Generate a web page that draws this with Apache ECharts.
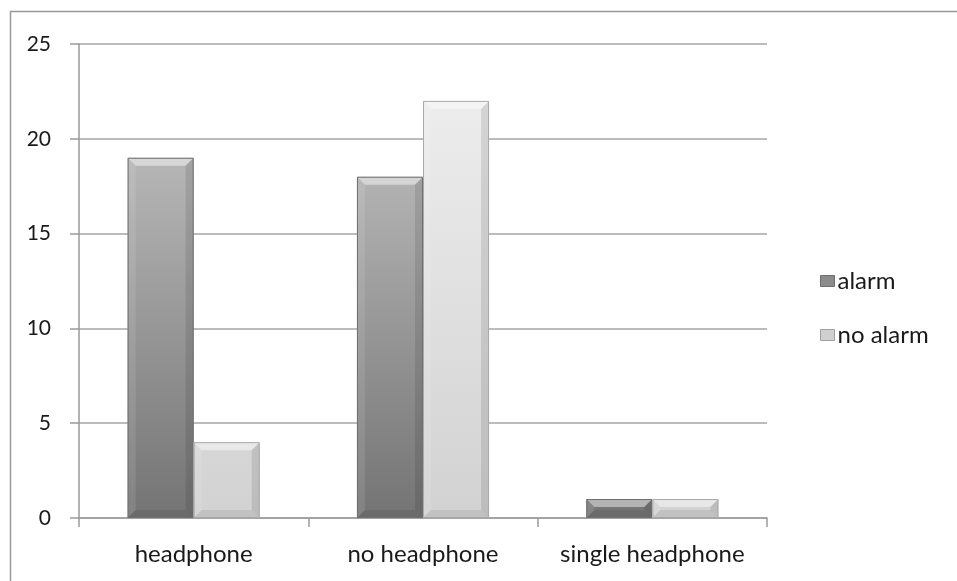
<!DOCTYPE html>
<html>
<head>
<meta charset="utf-8">
<script src="https://cdn.jsdelivr.net/npm/echarts@6/dist/echarts.min.js"></script>
<style>
  html, body { margin: 0; padding: 0; background: #ffffff; }
  #chart { width: 957px; height: 581px; }
</style>
</head>
<body>
<div id="chart"></div>
<script>
// Categories and counts per group
const categories = ['headphone', 'no headphone', 'single headphone'];
const alarmValues = [19, 18, 1];
const noAlarmValues = [4, 22, 1];
const seriesNames = ['alarm', 'no alarm'];
const yTicks = { min: 0, max: 25, interval: 5 };

const FONT = 'Lato, "Open Sans", sans-serif';
const GRID = { left: 79, right: 190, top: 44, bottom: 63 };
const plotTop = GRID.top;
const plotBottom = 581 - GRID.bottom;
const BAR_SHARE = 0.288;   // width of one bar as a share of the category band

// Vertical shading shared across the whole plot height
function shade(top, bottom) {
  return new echarts.graphic.LinearGradient(0, plotTop, 0, plotBottom, [
    { offset: 0, color: top },
    { offset: 1, color: bottom }
  ], true);
}

const looks = [
  { face: shade('#cbcbcb', '#747474'), edge: '#6f6f6f', legend: '#8c8c8c', side: -1 },
  { face: shade('#f0f0f0', '#d2d2d2'), edge: '#a9a9a9', legend: '#d0d0d0', side: 0 }
];

// Bevelled bar: flat face plus lit top/left and shaded right/bottom rims
function bevelBar(look) {
  return function (params, api) {
    const cat = api.value(0);
    const val = api.value(1);
    const base = api.coord([cat, 0]);
    const top = api.coord([cat, val]);
    const band = api.size([1, 0])[0];
    const w = band * BAR_SHARE;
    const x0 = base[0] + look.side * w;
    const x1 = x0 + w;
    const y0 = top[1];
    const y1 = base[1];
    const h = y1 - y0;
    const b = Math.max(1, Math.min(8, h / 2.2, w / 2.2));
    const ix0 = x0 + b, ix1 = x1 - b, iy0 = y0 + b, iy1 = y1 - b;
    const poly = (pts, fill) => ({ type: 'polygon', shape: { points: pts }, style: { fill: fill }, silent: true });
    return {
      type: 'group',
      children: [
        { type: 'rect', shape: { x: x0, y: y0, width: w, height: h }, style: { fill: look.face } },
        poly([[x0, y0], [x1, y0], [ix1, iy0], [ix0, iy0]], 'rgba(255,255,255,0.45)'),
        poly([[x0, y0], [ix0, iy0], [ix0, iy1], [x0, y1]], 'rgba(255,255,255,0.10)'),
        poly([[x1, y0], [ix1, iy0], [ix1, iy1], [x1, y1]], 'rgba(0,0,0,0.10)'),
        poly([[x0, y1], [ix0, iy1], [ix1, iy1], [x1, y1]], 'rgba(0,0,0,0.08)'),
        { type: 'rect', shape: { x: x0 + 0.5, y: y0 + 0.5, width: w - 1, height: h - 1 },
          style: { fill: 'none', stroke: look.edge, lineWidth: 1 }, silent: true }
      ]
    };
  };
}

const chart = echarts.init(document.getElementById('chart'), null, { renderer: 'canvas' });

chart.setOption({
  animation: false,
  backgroundColor: '#ffffff',
  graphic: [{
    type: 'rect',
    left: 8, top: 9,
    shape: { width: 1000, height: 620 },
    style: { fill: 'none', stroke: '#9a9a9a', lineWidth: 1.5 },
    silent: true,
    z: -1
  }],
  grid: GRID,
  legend: {
    orient: 'vertical',
    left: 815,
    top: 264,
    itemWidth: 14,
    itemHeight: 11,
    itemGap: 30,
    icon: 'rect',
    textStyle: { fontFamily: FONT, fontSize: 24, color: '#1a1a1a', padding: [0, 0, 0, -2] },
    data: [
      { name: seriesNames[0], itemStyle: { color: looks[0].legend, borderColor: '#6f6f6f', borderWidth: 1 } },
      { name: seriesNames[1], itemStyle: { color: looks[1].legend, borderColor: '#a0a0a0', borderWidth: 1 } }
    ]
  },
  xAxis: {
    type: 'category',
    data: categories,
    axisLine: { lineStyle: { color: '#9a9a9a', width: 1.5 } },
    axisTick: { show: true, length: 9, lineStyle: { color: '#9a9a9a', width: 1.5 } },
    axisLabel: { interval: 0, hideOverlap: false, fontFamily: FONT, fontSize: 24, color: '#1a1a1a', margin: 24 }
  },
  yAxis: {
    type: 'value',
    min: yTicks.min,
    max: yTicks.max,
    interval: yTicks.interval,
    axisLine: { show: true, lineStyle: { color: '#9a9a9a', width: 1.5 } },
    axisTick: { show: true, length: 9, lineStyle: { color: '#9a9a9a', width: 1.5 } },
    axisLabel: { fontFamily: FONT, fontSize: 21, color: '#1a1a1a', margin: 28 },
    splitLine: { lineStyle: { color: '#a6a6a6', width: 1.5 } }
  },
  series: [
    {
      name: seriesNames[0],
      type: 'custom',
      renderItem: bevelBar(looks[0]),
      encode: { x: 0, y: 1 },
      itemStyle: { color: looks[0].legend },
      data: alarmValues.map((v, i) => [i, v])
    },
    {
      name: seriesNames[1],
      type: 'custom',
      renderItem: bevelBar(looks[1]),
      encode: { x: 0, y: 1 },
      itemStyle: { color: looks[1].legend },
      data: noAlarmValues.map((v, i) => [i, v])
    }
  ]
});
</script>
</body>
</html>
